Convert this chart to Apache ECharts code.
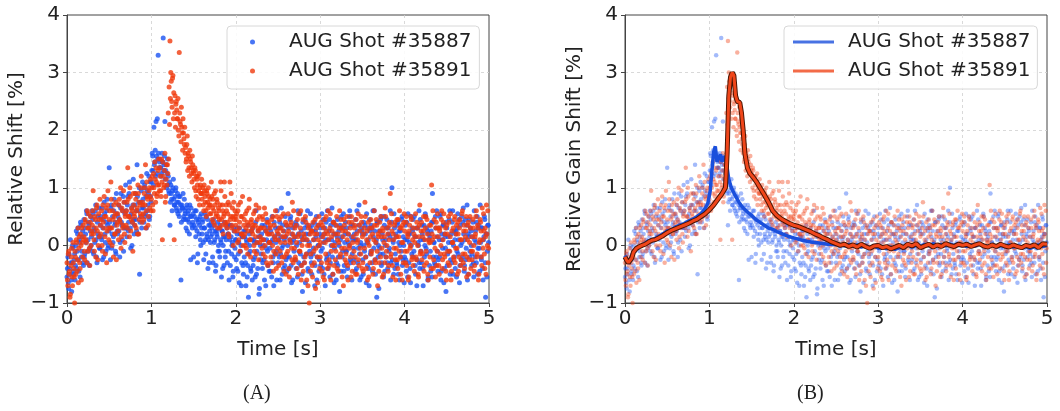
<!DOCTYPE html>
<html>
<head>
<meta charset="utf-8">
<script src="https://cdn.jsdelivr.net/npm/echarts@6/dist/echarts.min.js"></script>
<style>
html,body{margin:0;padding:0;background:#fff;}
#chart{width:1060px;height:411px;}
</style>
</head>
<body>
<div id="chart"></div>
<script>
// ---- data ----
const seriesNames = ['AUG Shot #35887', 'AUG Shot #35891'];
const xTicks = [0, 1, 2, 3, 4, 5];
const yTicks = [-1, 0, 1, 2, 3, 4];
const sampleStep = 0.01;   // seconds between samples in each array
const offsetB = 0.005;     // the "B" arrays are sampled half a step later

// relative shift samples, shot #35887, t = 0.00, 0.01 ... 4.99 s
const blueShiftA = [
-0.55,-0.2,-0.75,-0.4,0.1,-0.6,-0.3,-0.05,-0.5,-0.15,
-0.35,0.25,-0.1,0.3,-0.45,0.05,0.4,-0.2,0.15,-0.3,
0.45,-0.15,0.2,0.6,-0.3,0.1,0.35,-0.05,0.5,0.15,
-0.1,0.55,0.3,0.05,0.7,-0.2,0.4,0.2,0.65,-0.05,
0.5,0.1,-0.25,0.45,0.75,0.2,-0.1,0.6,0.35,0.0,
1.35,0.3,0.65,-0.05,0.5,0.15,0.8,0.4,-0.15,0.55,
0.2,0.7,0.45,0.05,0.9,0.35,0.6,-0.1,0.75,0.3,
0.6,0.15,0.85,0.4,1.1,0.3,0.55,0.0,0.7,0.45,
0.35,0.9,0.6,1.4,0.2,0.75,-0.5,0.5,0.95,0.65,
0.8,0.4,1.05,0.55,0.3,0.95,0.7,1.2,0.5,0.85,
1.1,1.6,1.3,2.05,1.45,1.2,1.55,2.2,3.3,1.35,
1.5,1.35,1.25,1.45,3.6,1.4,2.15,1.3,1.0,1.5,
1.2,0.9,0.35,1.05,0.8,0.95,1.15,0.7,0.85,1.0,
0.6,0.9,0.75,0.5,0.85,-0.6,0.7,0.65,0.45,0.8,
0.55,0.3,0.7,0.45,0.6,0.2,0.5,0.65,0.35,0.4,
-0.2,0.5,0.3,0.6,0.25,-0.15,0.45,0.35,0.1,0.55,
0.2,0.45,-0.25,0.3,0.1,0.5,0.15,-0.4,0.35,0.25,
0.05,0.4,0.2,-0.3,0.35,0.1,-0.45,0.25,0.15,-0.1,
0.3,-0.2,0.1,-0.55,0.25,0.0,-0.35,0.15,-0.1,0.35,
-0.3,0.2,-0.6,0.1,0.35,-0.15,0.05,-0.45,0.25,-0.05,
0.1,-0.4,0.3,-0.15,-0.65,0.2,0.0,-0.3,0.15,-0.5,
-0.2,0.25,-0.7,0.05,-0.35,-0.9,0.2,-0.1,-0.45,0.1,
0.3,-0.25,0.05,-0.55,0.6,-0.1,-0.4,0.15,-0.75,0.0,
-0.15,0.35,-0.3,0.1,-0.6,0.25,-0.05,0.45,-0.35,0.05,
0.2,-0.45,0.05,0.5,-0.2,-0.7,0.15,0.3,-0.1,0.6,
-0.3,0.1,0.4,-0.15,0.65,-0.5,0.0,0.25,-0.35,0.15,
0.35,-0.2,0.9,-0.4,0.1,0.5,-0.65,0.05,0.3,-0.1,
-0.25,0.4,0.0,-0.55,0.2,-0.1,0.55,-0.35,0.15,-0.8,
0.1,-0.3,0.45,0.2,-0.15,0.6,-0.45,0.05,0.3,-0.2,
-0.5,0.25,-0.05,0.4,-0.35,0.15,-0.6,0.35,0.0,-0.25,
0.3,-0.1,0.55,-0.4,0.05,0.2,-0.7,0.4,-0.2,0.1,
-0.15,0.45,-0.3,0.0,0.65,-0.5,0.2,-0.05,0.35,-0.6,
0.15,-0.35,0.25,-0.8,0.1,0.5,-0.2,0.3,-0.45,0.05,
0.4,-0.1,-0.55,0.2,0.0,0.6,-0.3,0.15,-0.15,0.35,
-0.25,0.1,0.45,-0.4,0.25,-0.05,0.7,-0.6,0.05,0.3,
0.2,-0.5,0.0,0.35,-0.2,0.55,-0.35,0.1,-0.7,0.25,
-0.1,0.3,-0.45,0.15,0.6,-0.25,0.05,-0.9,0.4,0.0,
0.25,-0.15,0.5,-0.3,0.1,-0.55,0.35,0.0,-0.2,0.45,
-0.4,0.2,-0.05,0.6,-0.3,1.0,0.1,-0.5,0.3,-0.15,
0.15,-0.35,0.4,0.05,-0.6,0.25,-0.1,0.5,-0.25,0.0,
-0.2,0.35,-0.45,0.1,0.55,-0.3,0.2,-0.65,0.0,0.3,
0.45,-0.1,0.15,-0.5,0.3,-0.25,0.05,0.6,-0.4,0.1,
-0.3,0.2,-0.7,0.35,0.0,0.5,-0.15,0.25,-0.55,0.1,
0.15,-0.45,0.4,0.9,-0.2,0.05,-0.35,0.3,0.6,-0.1,
-0.25,0.1,0.5,-0.6,0.2,-0.05,0.35,-0.4,0.15,-0.8,
0.3,-0.15,0.05,0.45,-0.5,0.2,-0.3,0.6,0.0,-0.2,
-0.4,0.25,-0.1,0.55,0.1,-0.65,0.35,-0.25,0.05,0.4,
0.2,-0.35,0.45,-0.05,0.7,-0.5,0.15,-0.2,0.3,0.0,
-0.15,0.4,-0.55,0.1,0.25,-0.3,0.5,-0.05,0.35,-0.45,
0.05,-0.25,0.3,-0.6,0.15,0.45,-0.9,0.2,-0.1,0.35
];
// shot #35887, t = 0.005, 0.015 ... 4.995 s
const blueShiftB = [
-0.4,-0.65,-0.15,-0.5,-0.3,-0.8,0.0,-0.45,-0.25,-0.6,
0.0,-0.4,0.2,-0.25,0.1,-0.55,0.35,-0.1,0.25,-0.35,
-0.2,0.3,0.05,0.55,-0.1,0.4,-0.35,0.25,0.0,0.6,
0.45,-0.15,0.25,0.6,0.1,-0.3,0.5,0.15,-0.05,0.35,
0.15,0.65,0.3,-0.2,0.55,0.05,0.4,0.8,-0.05,0.25,
0.4,-0.25,0.7,0.2,0.05,0.6,0.35,-0.1,0.9,0.25,
0.5,0.25,-0.2,0.65,0.4,0.1,0.85,0.3,0.55,1.05,
0.3,0.7,0.25,0.9,0.5,-0.05,0.65,0.4,1.15,0.2,
0.7,0.45,0.25,0.85,0.6,1.0,0.4,0.75,0.3,1.1,
0.65,1.0,0.5,0.85,1.25,0.6,0.9,0.45,1.1,0.75,
1.3,1.55,1.05,1.4,1.65,2.15,1.25,1.5,1.6,1.45,
1.35,1.2,1.6,1.45,1.3,1.55,1.15,1.4,1.25,1.05,
0.95,1.1,0.75,0.9,0.6,1.0,0.8,0.7,0.95,0.65,
0.75,0.55,0.85,0.6,0.7,0.4,0.65,0.9,0.5,0.6,
0.45,0.65,0.25,0.55,0.4,0.7,-0.25,0.5,0.3,0.55,
0.35,0.6,0.15,0.45,-0.3,0.4,0.2,0.5,0.0,0.3,
0.4,0.05,0.3,0.55,-0.15,0.2,0.45,0.1,-0.3,0.35,
0.15,0.3,-0.2,0.45,0.05,0.25,-0.35,0.2,0.4,0.0,
-0.1,0.35,0.05,0.25,-0.4,0.15,0.4,-0.2,0.1,0.3,
0.2,-0.1,0.35,-0.35,0.15,0.0,-0.55,0.3,-0.2,0.1,
-0.25,0.2,-0.45,0.05,0.3,-0.1,-0.7,0.15,-0.35,0.25,
0.15,-0.3,0.1,-0.55,0.35,-0.15,0.0,-0.4,0.25,-0.6,
-0.35,0.1,-0.2,0.4,-0.5,0.05,0.25,-0.85,0.15,-0.25,
0.2,-0.4,0.0,-0.25,0.35,-0.7,0.1,-0.1,0.3,-0.45,
-0.05,0.25,-0.55,0.1,-0.3,0.4,-0.15,0.05,-0.6,0.2,
0.3,-0.2,-0.6,0.15,-0.05,0.35,-0.4,0.1,0.5,-0.25,
-0.45,0.0,0.3,-0.2,0.45,-0.35,0.2,-0.6,0.1,0.35,
0.15,-0.4,0.35,0.6,-0.3,0.05,-0.15,0.25,-0.5,0.4,
-0.2,0.3,-0.65,0.1,0.35,-0.4,0.2,-0.1,0.55,-0.3,
0.35,-0.15,0.1,-0.7,0.25,0.5,-0.2,0.0,-0.45,0.2,
-0.35,0.15,-0.05,0.45,-0.5,0.3,0.1,-0.25,0.6,-0.4,
0.25,-0.55,0.35,0.1,-0.2,0.4,-0.65,0.05,0.2,-0.3,
0.45,-0.2,0.0,0.35,-0.45,0.15,-0.1,0.55,-0.35,0.2,
-0.1,0.3,-0.4,0.05,0.5,-0.25,0.35,-0.6,0.1,-0.05,
0.2,-0.45,0.1,0.6,-0.3,0.35,-0.15,0.0,-0.55,0.25,
-0.25,0.4,-0.1,0.2,-0.65,0.05,0.3,-0.4,0.45,-0.15,
0.35,-0.3,0.6,-0.05,0.25,-0.5,0.1,0.4,-0.2,-0.75,
-0.05,0.45,-0.35,0.2,-0.15,0.5,-0.45,0.1,0.3,-0.3,
0.3,-0.1,0.15,-0.6,0.4,-0.25,0.05,0.55,-0.4,0.2,
-0.3,0.35,-0.5,0.25,0.0,-0.2,0.45,-0.35,0.15,-0.65,
0.1,-0.25,0.4,-0.55,0.2,0.05,-0.4,0.5,-0.15,0.25,
-0.2,0.5,-0.35,0.15,-0.7,0.3,0.0,-0.3,0.45,-0.1,
0.35,-0.4,0.1,-0.2,0.55,-0.05,0.3,-0.6,0.2,-0.35,
-0.1,0.25,-0.55,0.4,0.05,-0.3,0.5,-0.2,0.15,-0.45,
0.3,-0.2,0.55,-0.45,0.1,0.35,-0.65,0.2,-0.05,0.4,
-0.35,0.15,-0.1,0.6,-0.25,0.05,0.4,-0.5,0.25,0.1,
0.2,-0.55,0.3,-0.15,0.45,-0.35,0.0,0.5,-0.2,0.65,
-0.45,0.1,-0.25,0.35,-0.6,0.2,0.45,-0.1,0.25,-0.35,
0.15,-0.3,0.6,-0.2,0.05,0.4,-0.5,0.3,-0.05,0.7,
-0.2,0.3,-0.4,0.1,0.5,-0.3,0.2,-0.55,0.35,0.05
];

// relative shift samples, shot #35891, t = 0.00, 0.01 ... 4.99 s
const redShiftA = [
-0.3,-0.7,-0.1,-0.45,-0.85,-0.2,-0.55,0.05,-0.4,-1.0,
-0.2,0.1,-0.45,0.3,-0.05,-0.3,0.2,-0.6,0.05,0.35,
0.15,-0.25,0.4,0.05,0.6,-0.1,0.3,-0.35,0.5,0.2,
0.35,0.95,0.1,0.5,-0.2,0.65,0.25,0.0,0.45,0.8,
0.2,0.6,-0.1,0.4,0.85,0.15,0.5,-0.3,0.7,0.3,
0.45,0.05,1.1,0.3,0.6,-0.2,0.5,0.2,0.75,0.35,
0.55,0.1,0.8,0.4,-0.05,0.65,0.3,0.95,0.2,0.5,
0.35,0.75,1.35,0.5,0.15,0.85,0.45,0.6,-0.1,0.7,
0.5,0.9,0.3,0.65,1.05,0.2,0.75,0.55,1.2,0.4,
0.7,0.45,1.0,1.4,0.6,0.85,0.35,0.95,0.65,1.15,
0.8,1.2,0.6,1.0,1.45,0.75,1.1,0.9,1.3,1.05,
1.35,0.95,1.5,0.1,1.2,1.05,1.6,0.85,1.4,1.4,
2.3,2.75,3.55,3.0,2.5,2.9,2.2,0.1,2.6,2.45,
2.35,2.2,2.0,3.35,2.15,1.8,2.05,1.65,1.95,1.75,
1.6,1.45,1.75,1.3,1.55,1.2,1.5,1.35,1.1,1.4,
1.25,1.0,1.3,0.85,1.15,1.2,0.95,0.7,1.05,0.9,
0.8,1.0,0.6,0.95,0.75,0.5,0.9,0.65,0.85,0.55,
0.7,1.1,0.45,0.8,0.6,0.35,0.95,0.55,0.75,0.5,
0.6,0.3,1.1,0.45,0.7,0.2,0.55,0.85,0.35,0.6,
0.4,0.75,0.15,1.1,0.5,0.3,0.65,0.0,0.45,0.6,
0.35,0.55,0.05,0.7,0.3,-0.1,0.5,0.2,0.85,0.15,
0.45,0.0,0.3,0.6,-0.15,0.35,0.8,0.1,0.4,0.25,
0.2,0.55,-0.1,0.35,0.7,0.05,0.3,-0.25,0.5,0.15,
0.3,-0.05,0.45,0.1,0.65,-0.2,0.25,0.4,-0.35,0.2,
0.05,0.35,-0.3,0.2,0.5,-0.1,0.15,0.6,-0.4,0.25,
0.1,-0.35,0.3,0.05,0.5,-0.2,0.25,-0.45,0.15,0.4,
-0.15,0.2,0.55,-0.4,0.1,0.35,-0.05,0.75,-0.3,0.15,
0.3,-0.25,0.05,0.45,-0.5,0.2,-0.1,0.6,-0.35,0.1,
-0.45,0.15,-0.2,0.4,-0.6,0.0,0.3,-1.0,0.2,-0.15,
0.25,-0.55,0.1,-0.3,0.45,-0.05,0.2,-0.65,0.35,0.0,
-0.2,0.4,-0.45,0.15,0.3,-0.6,0.05,0.5,-0.3,0.2,
0.1,-0.35,0.55,-0.1,0.25,-0.5,0.4,0.0,-0.25,0.35,
-0.4,0.2,0.05,0.6,-0.15,0.3,-0.55,0.15,0.45,-0.05,
0.25,-0.3,0.1,-0.6,0.4,0.0,-0.2,0.5,-0.45,0.15,
-0.1,0.35,-0.5,0.2,0.05,0.55,-0.35,0.25,-0.15,0.4,
0.15,-0.45,0.3,0.75,-0.2,0.1,-0.6,0.4,0.0,-0.3,
0.45,-0.1,0.2,-0.4,0.6,-0.25,0.05,0.35,-0.7,0.15,
-0.3,0.25,0.5,-0.05,0.3,-0.5,0.15,0.65,-0.2,0.0,
0.2,-0.35,0.4,0.9,-0.15,0.25,-0.55,0.1,0.35,-0.25,
-0.05,0.45,-0.4,0.15,0.6,-0.2,0.3,-0.6,0.05,0.4,
0.25,-0.3,0.5,-0.1,0.15,-0.55,0.35,0.0,0.45,-0.2,
-0.35,0.2,0.05,0.55,-0.25,0.3,-0.5,0.15,0.7,-0.1,
0.4,-0.15,0.25,-0.45,0.1,0.5,-0.3,0.2,-0.6,0.05,
-0.2,0.35,1.05,0.1,-0.4,0.45,-0.05,0.3,-0.35,0.55,
0.15,-0.5,0.3,0.0,0.6,-0.25,0.4,-0.15,0.2,-0.45,
0.35,-0.1,0.5,-0.35,0.15,-0.6,0.25,0.05,-0.2,0.45,
-0.3,0.2,-0.05,0.4,-0.45,0.3,0.1,-0.25,0.55,-0.15,
0.25,-0.4,0.15,0.5,-0.2,0.35,-0.5,0.05,0.3,-0.1,
-0.25,0.45,0.0,-0.35,0.2,0.6,-0.15,0.3,-0.5,0.1,
0.4,-0.2,0.65,-0.05,0.25,-0.4,0.15,0.7,0.0,-0.3
];
// shot #35891, t = 0.005, 0.015 ... 4.995 s
const redShiftB = [
-0.6,-0.15,-0.5,-0.9,-0.35,-0.05,-0.7,-0.3,-0.55,-0.1,
-0.5,0.05,-0.25,-0.65,0.15,-0.4,0.0,0.3,-0.2,0.1,
-0.1,0.45,0.1,-0.3,0.3,0.55,-0.05,0.4,0.0,0.25,
0.6,0.2,-0.1,0.45,0.3,0.7,-0.25,0.55,0.15,0.35,
0.45,0.0,0.7,0.3,0.5,-0.15,0.65,0.25,0.95,0.1,
0.6,0.3,0.8,0.0,0.45,0.7,0.2,0.55,-0.25,0.4,
0.25,0.7,0.45,1.0,0.15,0.6,0.35,0.75,0.05,0.55,
0.6,0.3,0.8,0.5,1.0,0.25,0.65,0.4,0.9,0.55,
0.35,0.8,0.6,0.2,0.9,0.45,0.7,1.0,0.5,0.75,
0.55,0.9,0.7,0.3,1.1,0.8,0.5,1.0,0.85,0.6,
1.0,0.7,1.25,0.9,1.15,1.35,0.85,1.05,1.5,0.95,
1.2,0.85,1.1,1.45,1.0,1.3,0.75,1.15,1.05,1.25,
1.5,2.1,2.55,2.85,2.4,2.95,2.65,2.3,2.05,2.5,
2.2,2.55,1.9,2.3,2.1,2.4,1.95,2.2,1.85,2.05,
1.7,1.5,1.9,1.6,1.35,1.65,1.45,1.25,1.55,1.3,
1.15,1.35,0.95,1.2,1.05,0.8,1.25,1.0,0.9,1.15,
0.9,0.7,1.05,0.85,0.6,0.95,0.75,1.0,0.7,0.8,
0.55,0.85,0.65,0.4,0.9,0.7,0.5,0.8,0.3,0.65,
0.45,0.7,0.95,0.35,0.6,0.5,1.1,0.4,0.7,0.3,
0.55,0.2,0.7,0.45,0.9,0.35,0.5,0.75,0.25,0.5,
0.45,0.25,0.6,0.1,0.4,0.75,0.2,0.5,0.0,0.35,
0.2,0.55,-0.05,0.4,0.25,0.65,0.1,-0.2,0.45,0.3,
0.35,0.0,0.6,0.15,-0.15,0.45,0.25,0.65,0.05,0.3,
0.1,0.5,-0.15,0.3,0.0,0.55,-0.3,0.2,0.4,0.05,
0.3,-0.2,0.45,0.0,-0.45,0.35,0.1,-0.15,0.5,-0.05,
0.2,0.45,-0.1,0.3,-0.3,0.15,0.55,-0.2,0.05,-0.5,
0.35,-0.1,0.25,-0.55,0.05,0.4,-0.25,0.2,0.6,-0.05,
-0.2,0.35,-0.4,0.15,0.55,-0.1,0.3,-0.6,0.0,0.45,
0.2,-0.3,0.5,-0.15,0.1,-0.7,0.35,0.0,-0.45,0.25,
-0.35,0.4,-0.1,0.2,-0.75,0.3,-0.2,0.1,0.5,-0.4,
0.05,-0.3,0.35,-0.55,0.2,0.45,-0.15,0.25,-0.4,0.6,
-0.25,0.3,-0.6,0.15,0.0,0.4,-0.35,0.2,-0.1,0.5,
0.1,-0.45,0.3,-0.2,0.45,-0.05,0.25,-0.7,0.35,-0.25,
-0.15,0.5,-0.35,0.2,-0.05,0.3,-0.55,0.4,0.05,-0.3,
0.3,-0.2,0.45,-0.5,0.1,-0.25,0.35,-0.05,0.5,-0.4,
-0.3,0.2,-0.05,0.5,-0.4,0.25,0.05,-0.55,0.3,0.15,
-0.15,0.3,-0.5,0.1,0.35,-0.3,0.45,-0.1,0.2,-0.45,
0.4,-0.2,0.15,-0.55,0.25,0.05,-0.3,0.5,-0.1,0.3,
-0.45,0.1,0.35,-0.2,0.55,-0.35,0.2,-0.05,0.4,-0.6,
0.15,-0.25,0.45,-0.1,0.3,-0.5,0.05,0.35,-0.3,0.55,
-0.1,0.4,-0.35,0.2,-0.6,0.25,-0.05,0.5,-0.25,0.1,
0.3,-0.45,0.15,-0.2,0.4,0.0,-0.55,0.35,-0.15,0.25,
-0.25,0.15,0.5,-0.35,0.3,-0.1,0.45,-0.5,0.1,0.35,
0.05,-0.4,0.2,0.6,-0.25,0.15,-0.55,0.4,-0.1,0.3,
-0.35,0.25,-0.15,0.45,-0.4,0.1,0.55,-0.2,0.3,-0.6,
0.2,-0.3,0.4,-0.1,0.55,-0.45,0.05,0.3,-0.25,0.5,
-0.05,0.35,-0.5,0.2,-0.2,0.45,-0.35,0.1,0.6,-0.3,
0.35,-0.15,0.25,-0.55,0.1,0.4,-0.25,0.5,-0.4,0.15,
-0.1,0.3,-0.45,0.15,0.5,-0.2,0.35,-0.6,0.05,0.45,
0.25,-0.35,0.1,0.55,-0.15,0.3,-0.5,0.2,0.6,-0.05
];

// smoothed relative gain shift, [time s, shift %]
const blueSmooth = [
[0,-0.18],[0.02,-0.25],[0.04,-0.3],[0.06,-0.27],[0.08,-0.18],[0.1,-0.1],[0.13,-0.05],[0.16,-0.02],
[0.2,0.0],[0.24,0.04],[0.28,0.08],[0.32,0.1],[0.36,0.12],[0.4,0.16],[0.45,0.2],[0.5,0.25],[0.55,0.27],
[0.6,0.32],[0.65,0.35],[0.7,0.38],[0.75,0.42],[0.8,0.45],[0.85,0.5],[0.9,0.55],[0.94,0.62],[0.98,0.72],
[1.01,0.95],[1.03,1.3],[1.05,1.62],[1.07,1.72],[1.09,1.45],[1.11,1.42],[1.13,1.58],[1.15,1.45],
[1.17,1.55],[1.19,1.5],[1.21,1.35],[1.23,1.15],[1.26,1.0],[1.3,0.88],[1.35,0.75],[1.4,0.65],
[1.45,0.58],[1.5,0.52],[1.55,0.45],[1.6,0.4],[1.65,0.35],[1.7,0.3],[1.75,0.28],[1.8,0.24],
[1.85,0.21],[1.9,0.18],[1.95,0.15],[2.0,0.13],[2.1,0.09],[2.2,0.06],[2.3,0.04],[2.4,0.02],[2.5,0.01],
[2.55,0.02],[2.6,-0.01],[2.65,0.02],[2.7,-0.02],[2.75,0.01],[2.8,-0.03],[2.85,0.0],[2.9,-0.04],
[2.95,-0.01],[3.0,-0.05],[3.05,-0.02],[3.1,-0.06],[3.15,-0.03],[3.2,-0.07],[3.25,-0.04],[3.3,-0.02],
[3.35,0.01],[3.4,-0.03],[3.45,0.0],[3.5,-0.02],[3.55,0.02],[3.6,-0.01],[3.65,0.03],[3.7,0.0],
[3.75,0.02],[3.8,-0.01],[3.85,0.02],[3.9,0.0],[3.95,0.03],[4.0,0.01],[4.05,-0.02],[4.1,0.01],
[4.15,-0.01],[4.2,0.02],[4.25,0.0],[4.3,-0.02],[4.35,0.01],[4.4,-0.03],[4.45,0.0],[4.5,-0.02],
[4.55,0.01],[4.6,-0.03],[4.65,-0.01],[4.7,-0.04],[4.75,-0.02],[4.8,-0.05],[4.85,-0.02],[4.9,0.01],
[4.95,-0.02],[5.0,0.0]
];
const redSmooth = [
[0,-0.2],[0.02,-0.26],[0.04,-0.3],[0.06,-0.33],[0.08,-0.22],[0.1,-0.12],[0.13,-0.06],[0.16,-0.03],
[0.2,0.0],[0.24,0.02],[0.28,0.06],[0.32,0.09],[0.36,0.1],[0.4,0.13],[0.45,0.17],[0.5,0.22],[0.55,0.26],
[0.6,0.29],[0.65,0.32],[0.7,0.35],[0.75,0.38],[0.8,0.42],[0.85,0.45],[0.9,0.5],[0.95,0.55],[1.0,0.62],
[1.05,0.7],[1.1,0.8],[1.15,0.9],[1.19,1.0],[1.21,1.6],[1.23,2.6],[1.25,2.92],[1.27,3.0],[1.29,2.95],
[1.31,2.6],[1.33,2.5],[1.36,2.48],[1.38,2.3],[1.4,2.0],[1.42,1.6],[1.45,1.35],[1.48,1.25],[1.52,1.18],
[1.56,1.1],[1.6,1.0],[1.65,0.88],[1.7,0.75],[1.75,0.6],[1.8,0.52],[1.85,0.46],[1.9,0.42],[1.95,0.38],
[2.0,0.35],[2.05,0.33],[2.1,0.3],[2.15,0.27],[2.2,0.24],[2.25,0.2],[2.3,0.17],[2.35,0.13],[2.4,0.1],
[2.45,0.06],[2.5,0.03],[2.55,0.0],[2.6,0.02],[2.65,-0.02],[2.7,0.01],[2.75,-0.03],[2.8,0.02],
[2.85,-0.02],[2.9,-0.05],[2.95,-0.01],[3.0,0.0],[3.05,-0.04],[3.1,-0.02],[3.15,-0.06],[3.2,-0.03],
[3.25,0.0],[3.3,-0.04],[3.35,0.02],[3.4,-0.01],[3.45,0.03],[3.5,-0.04],[3.55,-0.01],[3.6,0.02],
[3.65,-0.03],[3.7,0.01],[3.75,-0.02],[3.8,0.03],[3.85,0.0],[3.9,-0.02],[3.95,0.02],[4.0,0.0],
[4.05,0.02],[4.1,-0.02],[4.15,0.01],[4.2,0.03],[4.25,-0.01],[4.3,-0.03],[4.35,0.01],[4.4,-0.02],
[4.45,0.02],[4.5,-0.01],[4.55,-0.03],[4.6,0.01],[4.65,-0.02],[4.7,-0.04],[4.75,0.0],[4.8,-0.02],
[4.85,0.01],[4.9,-0.04],[4.95,0.03],[5.0,0.02]
];

// ---- presentation ----
const BLUE = '#1a52f2';
const RED = '#f03a0c';
const BLUE_LINE = '#1a4fdc';
const RED_LINE = '#f0461a';
const FONT = 'DejaVu Sans';
const FS = 20;

function pairs(values, offset) {
  return values.map((v, i) => [Math.round((offset + i * sampleStep) * 1000) / 1000, v]);
}
function samples(a, b) { return pairs(a, 0).concat(pairs(b, offsetB)); }
const minusFmt = v => String(v).replace('-', '\u2212');

const splitStyle = {show: true, showMinLine: false, showMaxLine: false,
  lineStyle: {color: '#d0d0d0', type: [3, 3], width: 0.8}};

function xAxis(idx) {
  return {
    type: 'value', gridIndex: idx, min: xTicks[0], max: xTicks[xTicks.length - 1], interval: 1,
    name: 'Time [s]', nameLocation: 'middle', nameGap: 37,
    nameTextStyle: {fontFamily: FONT, fontSize: FS, color: '#222'},
    axisLine: {show: true, onZero: false, lineStyle: {color: '#444', width: 1}},
    axisTick: {show: true, length: 4, lineStyle: {color: '#444'}},
    axisLabel: {fontFamily: FONT, fontSize: FS, color: '#222', margin: 6, formatter: minusFmt},
    splitLine: splitStyle
  };
}
function yAxis(idx, name) {
  return {
    type: 'value', gridIndex: idx, min: yTicks[0], max: yTicks[yTicks.length - 1], interval: 1,
    name: name, nameLocation: 'middle', nameGap: 37, nameRotate: 90,
    nameTextStyle: {fontFamily: FONT, fontSize: FS, color: '#222'},
    axisLine: {show: true, onZero: false, lineStyle: {color: '#444', width: 1}},
    axisTick: {show: true, length: 4, lineStyle: {color: '#444'}},
    axisLabel: {fontFamily: FONT, fontSize: FS, color: '#222', margin: 7, formatter: minusFmt},
    splitLine: splitStyle
  };
}

const legendBase = {
  orient: 'vertical', itemGap: 9,
  backgroundColor: 'rgba(255,255,255,0.85)', borderColor: '#d8d8d8', borderWidth: 1, borderRadius: 4,
  textStyle: {fontFamily: FONT, fontSize: FS, color: '#222', lineHeight: 20},
  selectedMode: false
};

const option = {
  animation: false,
  backgroundColor: '#fff',
  grid: [
    {left: 67, right: 571, top: 15, bottom: 108, show: true, borderColor: '#444', borderWidth: 1, backgroundColor: 'transparent'},
    {left: 625, right: 13, top: 15, bottom: 108, show: true, borderColor: '#444', borderWidth: 1, backgroundColor: 'transparent'}
  ],
  xAxis: [xAxis(0), xAxis(1)],
  yAxis: [yAxis(0, 'Relative Shift [%]'), yAxis(1, 'Relative Gain Shift [%]')],
  legend: [
    Object.assign({}, legendBase, {
      left: 227, top: 26, padding: [6, 8, 8, 23],
      itemWidth: 5, itemHeight: 5,
      textStyle: Object.assign({}, legendBase.textStyle, {padding: [0, 0, 0, 29]}),
      data: [
        {name: seriesNames[0], icon: 'circle', itemStyle: {color: BLUE}},
        {name: seriesNames[1], icon: 'circle', itemStyle: {color: RED}}
      ]
    }),
    Object.assign({}, legendBase, {
      left: 784, top: 26, padding: [6, 7, 8, 9],
      itemWidth: 41, itemHeight: 3,
      textStyle: Object.assign({}, legendBase.textStyle, {padding: [0, 0, 0, 9]}),
      data: [
        {name: seriesNames[0], icon: 'rect', itemStyle: {color: BLUE_LINE}},
        {name: seriesNames[1], icon: 'rect', itemStyle: {color: RED_LINE}}
      ]
    })
  ],
  series: [
    {name: seriesNames[0], type: 'scatter', xAxisIndex: 0, yAxisIndex: 0, data: samples(blueShiftA, blueShiftB),
     symbolSize: 5, itemStyle: {color: BLUE}},
    {name: seriesNames[1], type: 'scatter', xAxisIndex: 0, yAxisIndex: 0, data: samples(redShiftA, redShiftB),
     symbolSize: 5, itemStyle: {color: RED}},
    {name: 'samples 35887', type: 'scatter', xAxisIndex: 1, yAxisIndex: 1, data: samples(blueShiftA, blueShiftB),
     symbolSize: 4.5, itemStyle: {color: BLUE, opacity: 0.4}},
    {name: 'samples 35891', type: 'scatter', xAxisIndex: 1, yAxisIndex: 1, data: samples(redShiftA, redShiftB),
     symbolSize: 4.5, itemStyle: {color: RED, opacity: 0.4}},
    {name: seriesNames[0], type: 'line', xAxisIndex: 1, yAxisIndex: 1, data: blueSmooth,
     showSymbol: false, symbol: 'none', lineStyle: {color: BLUE_LINE, width: 3.5}, itemStyle: {color: BLUE_LINE}},
    {name: 'outline 35891', type: 'line', xAxisIndex: 1, yAxisIndex: 1, data: redSmooth,
     showSymbol: false, symbol: 'none', lineStyle: {color: '#4a1505', width: 5}},
    {name: seriesNames[1], type: 'line', xAxisIndex: 1, yAxisIndex: 1, data: redSmooth,
     showSymbol: false, symbol: 'none', lineStyle: {color: RED_LINE, width: 3}, itemStyle: {color: RED_LINE}}
  ],
  graphic: [
    {type: 'text', left: 243, top: 384, style: {text: '(A)', font: '20px "Liberation Serif"', fill: '#222'}},
    {type: 'text', left: 797, top: 384, style: {text: '(B)', font: '20px "Liberation Serif"', fill: '#222'}}
  ]
};

const chart = echarts.init(document.getElementById('chart'), null, {renderer: 'canvas'});
chart.setOption(option);
</script>
</body>
</html>
